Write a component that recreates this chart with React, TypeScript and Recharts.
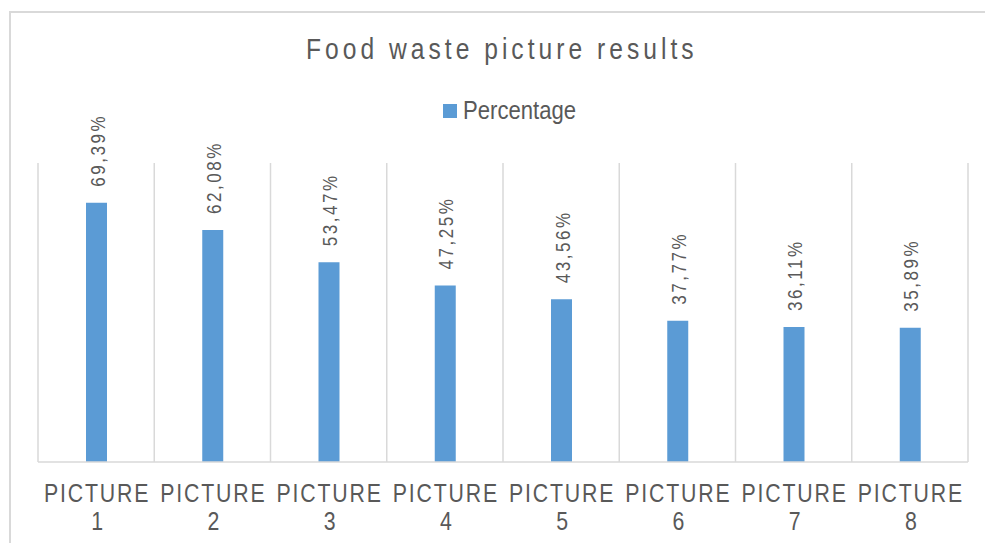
import React from "react";
import { BarChart, Bar, XAxis, YAxis, CartesianGrid, Legend, LabelList } from "recharts";

const categories = ["PICTURE 1", "PICTURE 2", "PICTURE 3", "PICTURE 4", "PICTURE 5", "PICTURE 6", "PICTURE 7", "PICTURE 8"];
const percentages = [69.39, 62.08, 53.47, 47.25, 43.56, 37.77, 36.11, 35.89];

const data = categories.map((name, i) => ({ name, value: percentages[i] }));

const TEXT = "#595959";
const GRID = "#d9d9d9";
const BLUE = "#5b9bd5";
const FONT = '"Liberation Sans", Arial, sans-serif';
// no narrow font installed, so squeeze the regular one horizontally
const SQUEEZE = 0.82;

// two-line category label: word on top, number below
const PictureTick = (props: any) => {
  const { x, y, payload } = props;
  const [word, num] = String(payload.value).split(" ");
  return (
    <g>
      <text transform={`translate(${x + 1} ${y + 32}) scale(${SQUEEZE} 1)`} textAnchor="middle" fill={TEXT} fontSize={26} fontFamily={FONT} letterSpacing={2.2}>
        {word}
      </text>
      <text transform={`translate(${x + 1} ${y + 60}) scale(${SQUEEZE} 1)`} textAnchor="middle" fill={TEXT} fontSize={26} fontFamily={FONT}>
        {num}
      </text>
    </g>
  );
};

const ValueLabel = (props: any) => {
  const { x, y, width, value } = props;
  const cx = x + width / 2 + 1;
  const ty = y - 16;
  return (
    <text
      transform={`translate(${cx} ${ty}) rotate(-90) scale(0.85 1)`}
      dy="0.36em"
      textAnchor="start"
      fill={TEXT}
      fontSize={20}
      fontFamily={FONT}
      letterSpacing={3}
    >
      {value.toFixed(2).replace(".", ",") + "%"}
    </text>
  );
};

const LegendContent = () => (
  <div style={{ display: "flex", justifyContent: "flex-start", alignItems: "center", color: TEXT, paddingLeft: 443 }}>
    <span style={{ width: 14, height: 14, background: BLUE, display: "inline-block", marginRight: 6 }} />
    <span
      style={{
        display: "inline-block",
        fontFamily: FONT,
        fontSize: 26,
        transform: "scaleX(0.85)",
        transformOrigin: "left center",
        width: 110,
        whiteSpace: "nowrap",
      }}
    >
      Percentage
    </span>
  </div>
);

export default function App() {
  return (
    <div style={{ position: "relative", width: 985, height: 543, background: "#fff", overflow: "hidden" }}>
      <style>{"html,body{margin:0;padding:0;overflow:hidden;}"}</style>
      {/* outer chart frame: only top and left edges fall inside the picture */}
      <div style={{ position: "absolute", left: 9, top: 11, width: 976, height: 1.5, background: GRID }} />
      <div style={{ position: "absolute", left: 9, top: 11, width: 1.5, height: 532, background: GRID }} />
      <div style={{ position: "absolute", top: 32, left: 0, width: 985, textAlign: "center" }}>
        <span
          style={{
            display: "inline-block",
            fontFamily: FONT,
            fontSize: 30,
            letterSpacing: 4.9,
            color: TEXT,
            transform: `scaleX(${SQUEEZE})`,
            whiteSpace: "nowrap",
            marginLeft: 19,
          }}
        >
          Food waste picture results
        </span>
      </div>
      <div style={{ position: "absolute", left: 0, top: 0 }}>
        <BarChart width={985} height={543} data={data} margin={{ top: 163, right: 17, bottom: 11, left: 38 }}>
          <CartesianGrid
            horizontal={false}
            stroke={GRID}
            strokeWidth={1.5}
            verticalCoordinatesGenerator={({ offset }: any) =>
              categories.map((_, i) => offset.left + (i * offset.width) / categories.length).concat(offset.left + offset.width)
            }
          />
          <XAxis
            dataKey="name"
            height={70}
            axisLine={{ stroke: GRID, strokeWidth: 1.5 }}
            tickLine={false}
            interval={0}
            tick={<PictureTick />}
          />
          <YAxis hide domain={[0, 80]} />
          <Legend verticalAlign="middle" wrapperStyle={{ top: 95, left: 0, width: 985 }} content={<LegendContent />} />
          <Bar dataKey="value" name="Percentage" fill={BLUE} barSize={21} isAnimationActive={false}>
            <LabelList dataKey="value" content={<ValueLabel />} />
          </Bar>
        </BarChart>
      </div>
    </div>
  );
}
